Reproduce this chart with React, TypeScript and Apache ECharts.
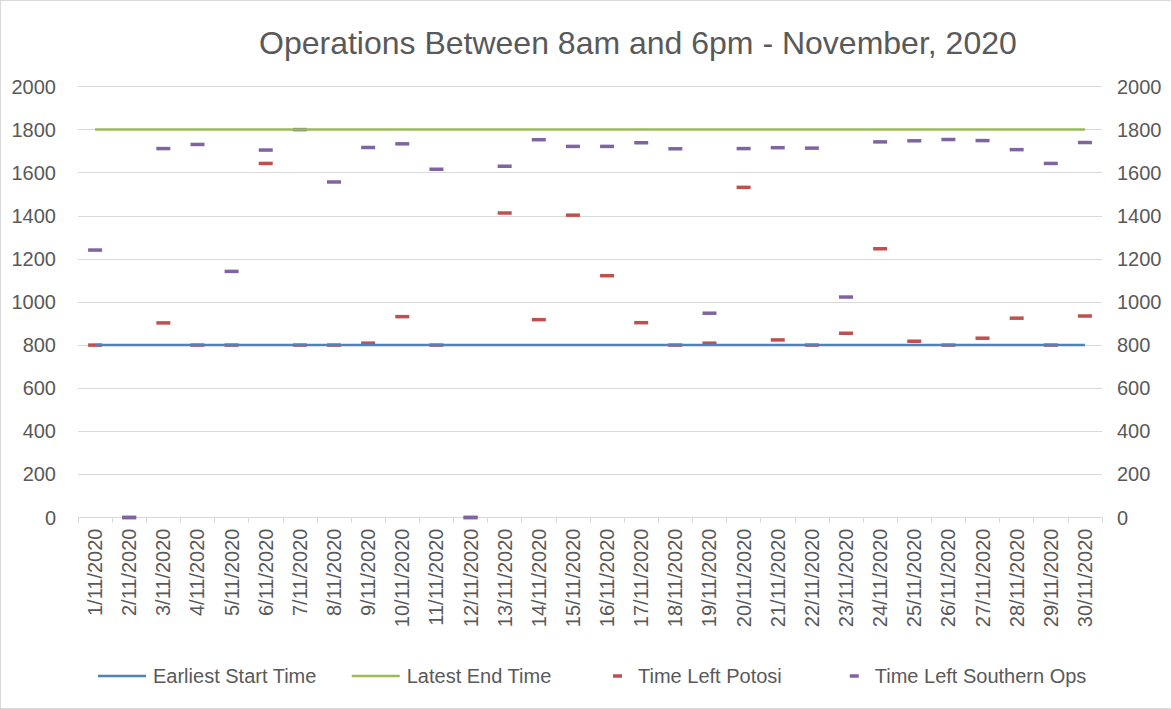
import React, { useEffect, useRef } from "react";
import * as echarts from "echarts";

const categories = [
  "1/11/2020", "2/11/2020", "3/11/2020", "4/11/2020", "5/11/2020", "6/11/2020",
  "7/11/2020", "8/11/2020", "9/11/2020", "10/11/2020", "11/11/2020", "12/11/2020",
  "13/11/2020", "14/11/2020", "15/11/2020", "16/11/2020", "17/11/2020", "18/11/2020",
  "19/11/2020", "20/11/2020", "21/11/2020", "22/11/2020", "23/11/2020", "24/11/2020",
  "25/11/2020", "26/11/2020", "27/11/2020", "28/11/2020", "29/11/2020", "30/11/2020",
];

const earliestStart = [
  800, 800, 800, 800, 800, 800, 800, 800, 800, 800, 800, 800, 800, 800, 800,
  800, 800, 800, 800, 800, 800, 800, 800, 800, 800, 800, 800, 800, 800, 800,
];

const latestEnd = [
  1800, 1800, 1800, 1800, 1800, 1800, 1800, 1800, 1800, 1800, 1800, 1800, 1800, 1800, 1800,
  1800, 1800, 1800, 1800, 1800, 1800, 1800, 1800, 1800, 1800, 1800, 1800, 1800, 1800, 1800,
];

const timeLeftPotosi = [
  800, 0, 903, 800, 800, 1643, 800, 800, 809, 932, 800, 0, 1413, 918, 1403,
  1122, 904, 800, 809, 1532, 824, 800, 855, 1247, 818, 800, 832, 925, 800, 935,
];

const timeLeftSouthernOps = [
  1241, 0, 1712, 1731, 1142, 1705, 1800, 1557, 1717, 1734, 1616, 0, 1630, 1753, 1722,
  1722, 1739, 1711, 948, 1712, 1716, 1714, 1023, 1743, 1748, 1754, 1749, 1707, 1643, 1740,
];

const FONT = "'Liberation Sans', Arial, sans-serif";
const TEXT = "#595959";
const GRID = "#d9d9d9";

export default function App() {
  const ref = useRef<HTMLDivElement>(null);

  useEffect(() => {
    if (!ref.current) return;
    const chart = echarts.init(ref.current, null, { renderer: "svg" });
    const yAxisBase = {
      type: "value",
      min: 0,
      max: 2000,
      interval: 200,
      axisLine: { show: false },
      axisTick: { show: false },
    };
    const fmt = (v: number) => String(v);
    chart.setOption({
      animation: false,
      backgroundColor: "#ffffff",
      textStyle: { fontFamily: FONT },
      title: {
        text: "Operations Between 8am and 6pm - November, 2020",
        left: 253,
        top: 21,
        textStyle: { fontFamily: FONT, fontSize: 32, fontWeight: "normal", color: TEXT },
      },
      grid: { left: 77, right: 69, top: 85.5, bottom: 190.5, containLabel: false },
      legend: [
        {
          data: ["Earliest Start Time", "Latest End Time"],
          left: 92,
          top: 660,
          icon: "rect",
          itemWidth: 48,
          itemHeight: 2.5,
          itemGap: 35,
          textStyle: { fontFamily: FONT, fontSize: 20, color: TEXT, padding: [0, 0, 0, 2] },
        },
        {
          data: ["Time Left Potosi", "Time Left Southern Ops"],
          left: 607,
          top: 660,
          icon: "rect",
          itemWidth: 9,
          itemHeight: 3.5,
          itemGap: 68,
          textStyle: { fontFamily: FONT, fontSize: 20, color: TEXT, padding: [0, 0, 0, 11] },
        },
      ],
      xAxis: {
        type: "category",
        data: categories,
        boundaryGap: true,
        axisLine: { show: true, lineStyle: { color: GRID, width: 1 } },
        axisTick: { show: true, length: 5, interval: 0, lineStyle: { color: GRID } },
        axisLabel: {
          interval: 0,
          rotate: 90,
          margin: 11,
          fontSize: 20,
          fontFamily: FONT,
          color: TEXT,
        },
      },
      yAxis: [
        {
          ...yAxisBase,
          position: "left",
          splitLine: { show: true, lineStyle: { color: GRID, width: 1 } },
          axisLabel: { fontSize: 20, fontFamily: FONT, color: TEXT, margin: 22, formatter: fmt },
        },
        {
          ...yAxisBase,
          position: "right",
          splitLine: { show: false },
          axisLabel: { fontSize: 20, fontFamily: FONT, color: TEXT, margin: 15, formatter: fmt },
        },
      ],
      series: [
        {
          name: "Earliest Start Time",
          type: "line",
          data: earliestStart,
          symbol: "none",
          lineStyle: { color: "#4F81BD", width: 2.5 },
          itemStyle: { color: "#4F81BD" },
        },
        {
          name: "Latest End Time",
          type: "line",
          data: latestEnd,
          symbol: "none",
          lineStyle: { color: "#9BBB59", width: 2.5 },
          itemStyle: { color: "#9BBB59" },
        },
        {
          name: "Time Left Potosi",
          type: "scatter",
          yAxisIndex: 1,
          data: timeLeftPotosi,
          symbol: "rect",
          symbolSize: [14, 3.5],
          itemStyle: { color: "#C0504D", opacity: 1 },
        },
        {
          name: "Time Left Southern Ops",
          type: "scatter",
          yAxisIndex: 1,
          data: timeLeftSouthernOps,
          symbol: "rect",
          symbolSize: [14, 3.5],
          itemStyle: { color: "#8064A2", opacity: 1 },
        },
      ],
    });
    return () => chart.dispose();
  }, []);

  return (
    <div
      ref={ref}
      style={{
        position: "fixed",
        left: 0,
        top: 0,
        width: 1172,
        height: 709,
        boxSizing: "border-box",
        border: "1px solid #d9d9d9",
        background: "#fff",
      }}
    />
  );
}
